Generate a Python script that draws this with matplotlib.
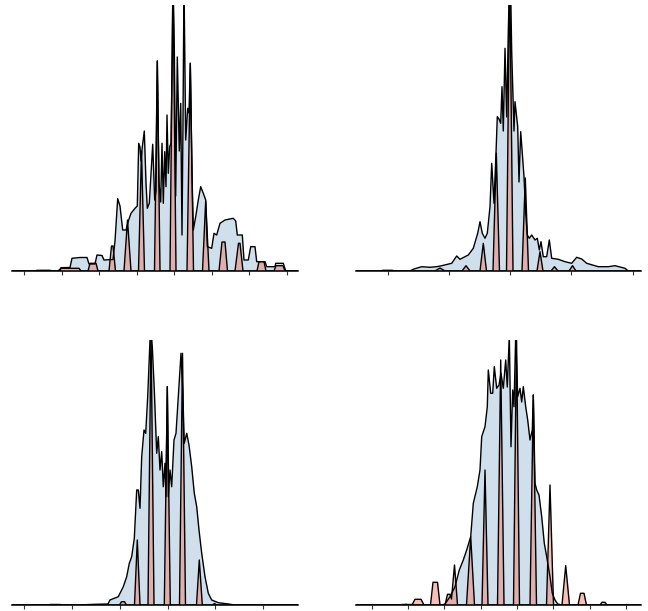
import matplotlib
matplotlib.use("Agg")
import matplotlib.pyplot as plt
import numpy as np

# outlines: (position, height) pairs, one list per curve
tl_blue = [(12, 0), (35, 0), (37, 0.7), (50, 0.7), (52, 0), (60, 0), (61, 3.3), (70, 3.5), (72, 12.7),
           (80, 13.5), (87, 13.5), (89, 7), (95, 7), (97, 16), (102, 15.5), (104, 11), (113, 11.5),
           (115, 30), (117.7, 72.3), (120, 65), (122.7, 41), (126, 41), (128.7, 51), (131, 57.7),
           (135, 62.7), (137.3, 65), (138.7, 127.7), (140, 124), (141, 110), (142.3, 124), (144.3, 140),
           (146, 88), (147.3, 62.7), (149.3, 67.7), (152.7, 126.7), (154.7, 71), (156, 80), (157.3, 210),
           (159, 87.7), (160.7, 69), (162, 127.7), (163.3, 67.7), (164.7, 119.3), (166, 84.3), (167, 156),
           (168.3, 97.7), (169.7, 124.3), (171, 128), (172.3, 220), (173, 290), (174.3, 222.7),
           (175.7, 75), (177.3, 214), (179.3, 120), (180.7, 167.7), (182, 36), (183, 150), (184, 290),
           (185.7, 131), (187.7, 162.7), (189, 158), (190.3, 207.7), (192, 97.7), (193.3, 41),
           (195.7, 54.3), (198.3, 71), (200.7, 84.3), (203.3, 77.7), (205.7, 71), (207.3, 24.3),
           (211.7, 22.7), (214, 37.7), (216.7, 36), (220, 47.7), (225, 51), (233.3, 52.7), (235.7, 50),
           (237.3, 36), (242.3, 36), (244, 11), (248.3, 11), (250.7, 24.3), (255, 24.3), (256.7, 9.3),
           (265, 9.3), (266.7, 4.3), (275, 4.3), (275.7, 7.7), (283.3, 7.7), (285.7, 0), (298, 0)]
tl_red = [(12, 0), (58, 0), (61, 2.7), (79, 2.7), (81, 0), (88, 0), (90, 7.7), (96, 7.7), (98, 0),
          (109, 0), (111.5, 25), (113, 25), (115.5, 0), (124, 0), (127.5, 51), (131, 0),
          (138.5, 0), (141.5, 120), (144.5, 0), (154.5, 0), (157.3, 210), (160, 0),
          (170, 0), (173, 300), (176, 0), (187, 0), (190.3, 207.7), (193.5, 0),
          (202.5, 0), (205.7, 70), (209, 0), (219, 0), (222, 29), (225, 29), (227.5, 0),
          (235, 0), (238.5, 27.7), (240, 27.7), (243, 0), (257, 0), (259, 9.3), (264, 9.3), (266, 0),
          (274, 0), (276, 5.3), (283, 5.3), (285, 0), (298, 0)]
tl_ticks = [24, 61.5, 99, 136.5, 174, 211.5, 249, 286.5]

tr_blue = [(356, 0), (380, 0), (383, 0.7), (392, 0.7), (395, 0), (410, 0), (414, 2), (421.7, 4.3),
           (430, 3.7), (436.7, 4.3), (441.7, 5.3), (451.7, 7.7), (456.7, 15), (460, 11.7), (468.3, 16),
           (473.3, 22.7), (477.7, 37.7), (480, 49.3), (482.3, 37.7), (485, 32.7), (487.3, 37.7),
           (490, 64.3), (491.7, 107.7), (494, 67.7), (496, 117.7), (497.3, 154.3), (499, 152),
           (500.7, 147.7), (502, 184.3), (503.3, 140), (505, 222.7), (506.7, 154), (508.3, 240),
           (509.5, 290), (510.5, 290), (511.7, 219), (514, 140), (515, 169.3), (517.7, 144.3),
           (519, 89), (520.7, 139.3), (522.3, 117.7), (524, 94.3), (525.7, 57.7), (527.3, 36),
           (529.3, 32.7), (531.7, 36), (535, 31), (537.3, 32.7), (539.3, 21), (541, 29.3),
           (543.3, 14.3), (546.7, 14.3), (549.3, 31), (551.7, 12.7), (558.3, 11.7), (565, 9.3),
           (571.7, 7.7), (576.7, 13.7), (581.7, 12), (586.7, 7.7), (598.3, 4.3), (608.3, 4.3),
           (615, 5.3), (625, 2.7), (628.3, 0), (641, 0)]
tr_red = [(356, 0), (435, 0), (440, 3), (445, 0), (462, 0), (466, 5.3), (470, 0), (480, 0),
          (483.3, 27.7), (486.5, 0), (493, 0), (496.3, 118), (499.5, 0), (506.5, 0), (509.7, 300),
          (513, 0), (522, 0), (525.3, 93), (528.5, 0), (537, 0), (540, 19.3), (543, 0), (551, 0),
          (554.5, 4.3), (558, 0), (569, 0), (572.5, 5.3), (576, 0), (641, 0)]
tr_ticks = [388, 449, 510, 571, 632.5]

bl_blue = [(12, 0), (48, 0), (50, 0.5), (60, 0.5), (62, 0), (78, 0), (95, 0.7), (108, 1), (110, 5),
           (118.3, 8.3), (123.3, 18.3), (126.7, 28.3), (129.3, 41.7), (131.7, 48.3), (134.3, 66.7),
           (136.7, 115), (138.3, 115), (140, 96.7), (141.7, 148.3), (144, 175), (145.7, 171.7),
           (147.7, 208.3), (150, 265), (151, 275), (152.3, 258), (154.3, 215), (156.7, 151.7),
           (158.3, 168.3), (160, 135), (161.7, 153.3), (163.3, 118.3), (165, 141.7), (166, 108.3),
           (167.3, 218.3), (168.3, 108.3), (170, 135), (171.7, 118.3), (174, 165), (176, 171.7),
           (178.3, 208.3), (181, 251.7), (182.7, 215), (184.3, 161.7), (186.7, 171.7), (189, 160),
           (191.7, 138.3), (194.3, 111.7), (196.7, 98.3), (199, 75), (201.7, 51.7), (205, 28.3),
           (208.3, 11.7), (211.7, 5), (218.3, 2.3), (228.3, 1), (235, 0), (298, 0)]
bl_red = [(12, 0), (119.5, 0), (121.5, 3.3), (124.5, 3.3), (126.5, 0), (134.5, 0), (137.3, 65), (140, 0),
          (148, 0), (151, 275), (154, 0), (164.3, 0), (167.3, 218.3), (170.3, 0), (179.5, 0),
          (182.5, 251.7), (185.5, 0), (196.5, 0), (199.3, 45), (202.3, 0), (212.5, 0), (214.5, 1.5),
          (216.5, 0), (298, 0)]
bl_ticks = [24, 72, 120, 168, 215, 263]

br_blue = [(356, 0), (400, 0), (402, 0.5), (412, 0.5), (414, 0), (442, 0), (445, 1), (450, 8.3),
           (455, 18.3), (459.3, 35), (463.3, 45), (466.7, 55), (470.7, 68.3), (473.3, 101.7),
           (477.3, 118.3), (480, 135), (481.7, 168.3), (485, 178.3), (487.3, 198.3), (488.3, 235),
           (490.7, 211.7), (492.7, 211.7), (494.3, 238.3), (496.7, 216.7), (499, 220), (501, 231.7),
           (503.3, 216.7), (505.7, 245), (507.3, 218), (509.3, 270), (511, 158.3), (512.7, 215),
           (514, 198.3), (515.7, 270), (517.7, 208.3), (520, 216.7), (521.7, 203), (523.3, 218.3),
           (525.7, 198.3), (527.7, 185), (530, 165), (532.3, 175), (533.3, 210), (535, 121.7),
           (536.7, 115), (539, 110), (541.7, 88.3), (544.3, 61.7), (546.7, 48.3), (550, 28.3),
           (552.3, 11.7), (555, 5), (557.7, 1), (561.7, 0), (641, 0)]
br_red = [(356, 0), (404, 0), (406, 0.7), (408, 0), (412, 0), (415, 5.7), (421, 5.7), (424, 0),
          (430.5, 0), (433, 22.7), (437.5, 22.7), (440, 0), (445, 0), (447.5, 10.7), (450, 10.7),
          (451.5, 6), (454.5, 40), (457.5, 0), (466.5, 0), (470.7, 68.3), (474.5, 0), (482, 0),
          (485, 135), (488, 0), (497.5, 0), (500.7, 245), (504, 0), (513.5, 0), (516.5, 270),
          (519.5, 0), (530, 0), (533.3, 210), (536.5, 0), (546.5, 0), (550, 120), (553.5, 0),
          (562, 0), (565.7, 39.3), (569.5, 0), (578, 0), (580.5, 11.7), (584, 11.7), (586.5, 0),
          (600, 0), (602, 2.7), (605, 2.7), (607, 0), (641, 0)]
br_ticks = [372, 407.7, 444, 480.7, 516.7, 553, 589.7, 626.3]

panels = [
    (tl_blue, tl_red, tl_ticks, (12, 298), 266, [12/648, 1-271/611, 286/648, 266/611]),
    (tr_blue, tr_red, tr_ticks, (356, 641), 266, [356/648, 1-271/611, 285/648, 266/611]),
    (bl_blue, bl_red, bl_ticks, (12, 298), 265, [12/648, 1-605/611, 286/648, 265/611]),
    (br_blue, br_red, br_ticks, (356, 641), 265, [356/648, 1-605/611, 285/648, 265/611]),
]

fig = plt.figure(figsize=(6.48, 6.11), dpi=100)
for blue, red, ticks, xlim, top, rect in panels:
    ax = fig.add_axes(rect)
    bx, by = np.array(blue).T
    rx, ry = np.array(red).T
    ax.fill_between(bx, by, color='steelblue', alpha=0.25, lw=0)
    ax.plot(bx, by, color='black', lw=1)
    ax.fill_between(rx, ry, color='#f08070', alpha=0.5, lw=0)
    ax.plot(rx, ry, color='black', lw=1)
    ax.set_xlim(*xlim)
    ax.set_ylim(0, top)
    ax.set_xticks(ticks)
    ax.set_xticklabels([])
    ax.set_yticks([])
    ax.tick_params(axis='x', length=3, width=0.8, color='#333333')
    for s in ['top', 'right', 'left']:
        ax.spines[s].set_visible(False)
    ax.spines['bottom'].set_linewidth(1.1)

fig.savefig('out.png', dpi=100)
